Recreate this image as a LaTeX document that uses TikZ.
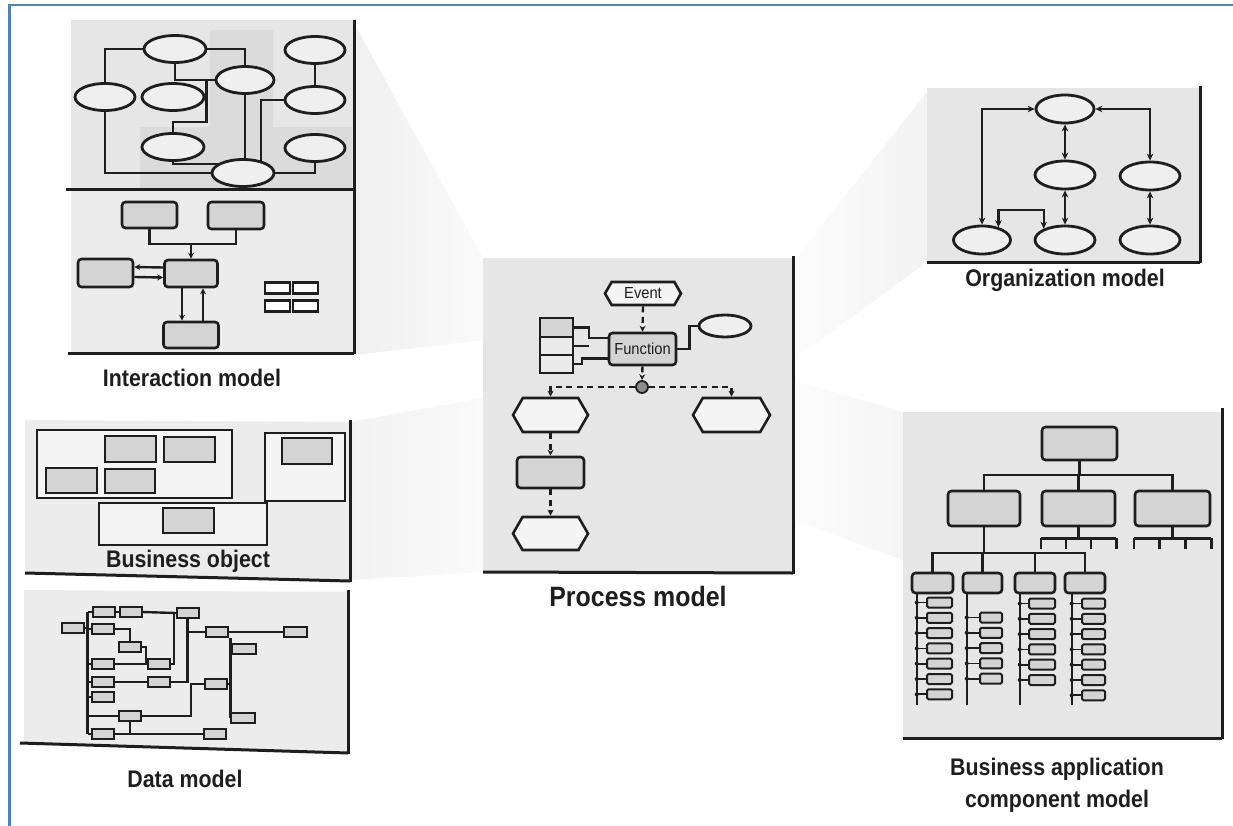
\documentclass[tikz,border=0pt]{standalone}
\usepackage{fontspec}
\setmainfont{Liberation Sans}
\newfontfamily\capfont{Liberation Sans Bold}[FakeStretch=0.89]
\newfontfamily\boxfont{Liberation Sans}[FakeStretch=0.92]
\usetikzlibrary{shapes.geometric,shapes.symbols,arrows.meta,calc}
\definecolor{frameblue}{HTML}{4F81BD}
\definecolor{panel}{HTML}{E6E6E6}
\definecolor{panellt}{HTML}{ECECEC}
\definecolor{patch}{HTML}{DBDBDB}
\definecolor{boxfill}{HTML}{D4D4D4}
\definecolor{ellfill}{HTML}{EFEFEF}
\definecolor{hexfill}{HTML}{F4F4F4}
\definecolor{ink}{HTML}{1E1E1E}
\begin{document}
\begin{tikzpicture}[x=1pt,y=-1pt,
  every node/.style={text=ink},
  rim/.style={draw=ink,line width=3pt},
  wire/.style={draw=ink,line width=2.4pt},
  arr/.style={wire,-{Stealth[length=6pt,width=6pt]}},
  rarr/.style={wire,{Stealth[length=6pt,width=6pt]}-},
  dbl/.style={wire,{Stealth[length=7pt,width=6.5pt]}-{Stealth[length=7pt,width=6.5pt]}},
  dsh/.style={draw=ink,line width=2.4pt,dash pattern=on 6pt off 4.5pt},
  dsharr/.style={dsh,-{Stealth[length=6pt,width=6pt]}},
  oval/.style={ellipse,draw=ink,line width=2.8pt,fill=ellfill,inner sep=0pt,minimum height=27pt,minimum width=#1},
  oval/.default=62pt,
  gbox/.style={draw=ink,line width=2.6pt,fill=boxfill,rounded corners=3.5pt,inner sep=0pt},
  sbox/.style={draw=ink,line width=2.4pt,fill=boxfill,inner sep=0pt},
  frame/.style={draw=ink,line width=2.4pt,inner sep=0pt},
  dbox/.style={draw=ink,line width=2pt,fill=boxfill,inner sep=0pt,minimum width=22pt,minimum height=10pt},
  ibox/.style={draw=ink,line width=2pt,fill=boxfill,rounded corners=1.5pt,inner sep=0pt,minimum height=10pt},
  wh/.style 2 args={minimum width=#1pt,minimum height=#2pt},
  hexa/.style={signal,signal to=west and east,signal pointer angle=120,draw=ink,line width=2.6pt,fill=hexfill,inner sep=0pt},
  caption/.style={font=\capfont\fontsize{24}{27}\selectfont,anchor=base},
  boxtext/.style={font=\boxfont\fontsize{16}{18}\selectfont},
]
\useasboundingbox (0,0) rectangle (1233,826);
\fill[white] (0,0) rectangle (1233,826);

% faint projection wedges
\shade[left color=black!6,right color=black!2] (355,25) -- (483,258) -- (483,340) -- (355,355) -- cycle;
\shade[left color=black!5,right color=black!2] (350,422) -- (483,398) -- (483,572) -- (350,580) -- cycle;
\shade[left color=black!1,right color=black!5] (793,262) -- (927,92) -- (927,262) -- (793,360) -- cycle;
\shade[left color=black!1,right color=black!4] (793,380) -- (903,412) -- (903,560) -- (793,520) -- cycle;

% ---------- Interaction model ----------
\fill[panel] (71,20) rectangle (354,190);
\fill[patch] (210,30) rectangle (273,188);
\fill[patch] (140,127) rectangle (352,188);
\fill[panellt] (71,190) rectangle (354,353);
\draw[rim] (354,20) -- (354,354);
\draw[rim] (66,190) -- (354,190);
\draw[rim] (68,353) -- (354,353);

\node[oval] (iE1) at (175,49) {};
\node[oval=60pt] (iE2) at (315,50) {};
\node[oval=58pt] (iE3) at (245,80) {};
\node[oval=60pt] (iE4) at (105,97) {};
\node[oval] (iE5) at (173,97) {};
\node[oval=60pt] (iE6) at (315,100) {};
\node[oval] (iE7) at (173,147) {};
\node[oval=60pt] (iE8) at (315,148) {};
\node[oval] (iE9) at (243,173) {};
\draw[wire] (iE1.west) -| (iE4.north);
\draw[wire] (iE1.east) -| (iE3.north);
\draw[wire] (iE1.south) |- (iE3.west);
\coordinate (ij) at ($(iE3.west)+(-8,0)$);
\draw[wire] (ij) -- ++(0,42) -| (iE7.north);
\draw[wire] (iE3.south) -- (iE3.south |- iE9.north);
\draw[wire] (iE6.west) -| (iE9.34);
\draw[wire] (iE2.south) -- (iE6.north);
\draw[wire] (iE8.south) |- (iE9.east);
\draw[wire] (iE7.south) |- (iE9.160);
\draw[wire] (iE4.south) |- (iE9.west);

\node[gbox,wh={55}{26}] (iA) at (149.5,215) {};
\node[gbox,wh={56}{27}] (iB) at (236,215.5) {};
\node[gbox,wh={53}{27}] (iC) at (191,273.5) {};
\node[gbox,wh={55}{28}] (iD) at (105.5,273) {};
\node[gbox,wh={55}{26}] (iE) at (191,335) {};
\draw[wire] (iA.south) -- ++(0,15) coordinate (ibus) -| (iB.south);
\draw[arr] (ibus -| iC.north) -- (iC.north);
\draw[rarr] ($(iD.east)+(0,-6)$) -- ($(iC.west)+(0,-6)$);
\draw[arr] ($(iD.east)+(0,4)$) -- ($(iC.west)+(0,4)$);
\draw[arr] ($(iC.south)+(-9,0)$) -- ($(iE.north)+(-9,0)$);
\draw[arr] ($(iE.north)+(12,0)$) -- ($(iC.south)+(12,0)$);
\node[sbox,fill=white,wh={25}{11}] (iq1) at (277.5,288) {};
\node[sbox,fill=white,wh={25}{11}] (iq2) at (305.5,288) {};
\node[sbox,fill=white,wh={25}{11}] (iq3) at (277.5,306) {};
\node[sbox,fill=white,wh={25}{11}] (iq4) at (305.5,306) {};
\node[caption] (capIM) at (192,386) {Interaction model};

% ---------- Business object ----------
\fill[panellt] (25,420) -- (350,422) -- (350,581) -- (25,573) -- cycle;
\draw[rim] (350,420) -- (350,582);
\draw[rim] (25,573) -- (350,581);
\node[frame,fill=panellt!60!white,wh={195}{68}] (bR1) at (134.5,464) {};
\node[frame,fill=panellt!60!white,wh={80}{68}] (bR2) at (305,467) {};
\node[frame,fill=panellt!60!white,wh={168}{42}] (bR3) at (183,524) {};
\node[sbox,wh={51}{26}] (bo1) at (130.5,449) {};
\node[sbox,wh={51}{25}] (bo2) at (189.5,449.5) {};
\node[sbox,wh={51}{25}] (bo3) at (71.5,480.5) {};
\node[sbox,wh={50}{24}] (bo4) at (130,481) {};
\node[sbox,wh={50}{26}] (bo5) at (307,451) {};
\node[sbox,wh={51}{25}] (bo6) at (188.5,520.5) {};
\node[caption] (capBO) at (188,567) {Business object};

% ---------- Data model ----------
\fill[panellt] (24,590) -- (348,592) -- (348,753) -- (24,743) -- cycle;
\draw[rim] (348,590) -- (348,754);
\draw[rim] (20,743) -- (348,753);
\node[dbox] (b1) at (72.5,628) {};
\node[dbox] (b2) at (103.5,612) {};
\node[dbox] (b3) at (130.5,612) {};
\node[dbox] (b4) at (187.5,613) {};
\node[dbox] (b5) at (103,629) {};
\node[dbox] (b6) at (130,647) {};
\node[dbox] (b7) at (217,632) {};
\node[dbox,minimum width=23pt] (b8) at (295.5,632) {};
\node[dbox,minimum width=24pt] (b9) at (244,648.5) {};
\node[dbox] (b10) at (102.5,664) {};
\node[dbox] (b11) at (159,664) {};
\node[dbox] (b12) at (102.5,682) {};
\node[dbox] (b13) at (159,682) {};
\node[dbox] (b14) at (216,684) {};
\node[dbox] (b15) at (102.5,697) {};
\node[dbox] (b16) at (130,716) {};
\node[dbox,minimum width=24pt] (b17) at (243,718) {};
\node[dbox] (b18) at (102.5,734) {};
\node[dbox] (b19) at (215,734) {};
\coordinate (tr1) at ($(b2.west)+(-4,0)$);
\draw[wire] (tr1) -- (tr1 |- b18.west);
\foreach \b in {b2,b5,b10,b12,b15,b18,b16}{\draw[wire] (\b.west) -- (\b.west -| tr1);}
\draw[wire] (b1.east) -- (b1.east -| tr1);
\draw[wire] (b2.east) -- (b3.west);
\draw[wire] (b3.east) -- (b4.west);
\draw[wire] (b5.east) -| (b6.north);
\draw[wire] (b6.east) -- ++(4,0) |- (b11.west);
\draw[wire] (b10.east) -- (b11.west);
\draw[wire] (b11.east) -- ++(3,0) |- (b4.west);
\draw[wire] (b4.south) |- (b13.east);
\draw[wire] (b4.south |- b7.west) -- (b7.west);
\draw[wire] (b12.east) -- (b13.west);
\draw[wire] (b7.east) -- (b8.west);
\coordinate (d7) at ($(b7.south east)+(1.5,0)$);
\draw[wire] (d7) -- (d7 |- b17.west) -- (b17.west);
\draw[wire] (d7 |- b9.west) -- (b9.west);
\draw[wire] (b14.east) -- (b14.east -| d7);
\draw[wire] (b14.west) -- ++(-13,0) |- (b16.east);
\draw[wire] (b18.east) -- (b19.west);
\draw[wire] (b16.south) -- (b16.south |- b18.east);
\node[caption] (capDM) at (185,787) {Data model};

% ---------- Process model ----------
\fill[panel] (483,258) rectangle (793,572);
\draw[rim] (793,256) -- (793,574);
\draw[rim] (483,572) -- (793,573);
\node[hexa,wh={76}{23},boxtext] (ev) at (643,293.5) {Event};
\node[gbox,wh={67}{32},boxtext] (fn) at (642.5,349) {Function};
\node[oval=52pt,minimum height=22pt] (pe) at (725,326) {};
\node[sbox,wh={33}{19}] (s1) at (556.5,327.5) {};
\node[sbox,fill=boxfill!50!white,wh={33}{18}] (s2) at (556.5,346) {};
\node[sbox,fill=boxfill!50!white,wh={33}{18}] (s3) at (556.5,364) {};
\node[circle,draw=ink,line width=1.8pt,fill=black!45,minimum size=12pt,inner sep=0pt] (xo) at (642,387) {};
\node[hexa,wh={75}{34}] (h1) at (550.5,415) {};
\node[hexa,wh={77}{34}] (h2) at (731.5,415) {};
\node[gbox,wh={67}{31}] (pg) at (550.5,472.5) {};
\node[hexa,wh={75}{33}] (h3) at (550.5,533.5) {};
\draw[dsharr] (ev.south) -- (fn.north);
\draw[dsharr] (fn.south) -- (xo.north);
\draw[dsharr] (xo.west) -| (h1.north);
\draw[dsharr] (xo.east) -| (h2.north);
\draw[dsharr] (h1.south) -- (pg.north);
\draw[dsharr] (pg.south) -- (h3.north);
\draw[wire] (fn.east) -- ++(12,0) |- (pe.west);
\draw[wire] (s1.east) -- ++(15,0) |- ($(fn.north west)+(0,6)$);
\draw[wire] (s2.east) -- ++(15,0);
\draw[wire] (s3.east) -- ++(8,0) |- ($(fn.south west)+(0,-8)$);
\node[caption,font=\capfont\fontsize{28}{30}\selectfont] (capPM) at (638,606) {Process model};

% ---------- Organization model ----------
\fill[panel] (927,88) rectangle (1200,262);
\draw[rim] (1200,86) -- (1200,263);
\draw[rim] (927,262) -- (1200,262);
\node[oval=58pt,minimum height=28pt] (o1) at (1065,109) {};
\node[oval=60pt,minimum height=28pt] (o2) at (1065,175) {};
\node[oval=60pt,minimum height=28pt] (o3) at (1150,176) {};
\node[oval=57pt,minimum height=28pt] (o4) at (982,240) {};
\node[oval=60pt,minimum height=28pt] (o5) at (1065,240) {};
\node[oval=60pt,minimum height=28pt] (o6) at (1150,240) {};
\coordinate (oy) at (0,210);
\draw[dbl] (o1.west) -| (o4.north);
\draw[dbl] (o1.east) -| (o3.north);
\draw[dbl] (o1.south) -- (o2.north);
\draw[dbl] (o2.south) -- (o5.north);
\draw[dbl] (o3.south) -- (o6.north);
\draw[dbl] (o4.38) -- (o4.38 |- oy) -| (o5.152);
\node[caption] (capOM) at (1065,286) {Organization model};

% ---------- Business application component model ----------
\fill[panel] (903,412) rectangle (1222,738);
\draw[rim] (1222,408) -- (1222,739);
\draw[rim] (903,738) -- (1222,738);
\node[gbox,wh={75}{33}] (tT) at (1079.5,443.5) {};
\node[gbox,wh={72}{35}] (l1) at (984,508.5) {};
\node[gbox,wh={73}{35}] (l2) at (1078.5,508.5) {};
\node[gbox,wh={75}{35}] (l3) at (1172.5,508.5) {};
\node[gbox,wh={41}{20}] (m1) at (932.5,583) {};
\node[gbox,wh={39}{20}] (m2) at (982.5,583) {};
\node[gbox,wh={40}{20}] (m3) at (1035,583) {};
\node[gbox,wh={40}{20}] (m4) at (1085,583) {};
\coordinate (h2y) at (0,475);
\coordinate (h3y) at (0,553);
\draw[wire] (tT.south) -- (tT.south |- h2y);
\draw[wire] (l1.north) -- (l1.north |- h2y) -- (l3.north |- h2y) -- (l3.north);
\draw[wire] (l2.north) -- (l2.north |- h2y);
\draw[wire] (l1.south) -- (l1.south |- h3y);
\draw[wire] (m1.north) -- (m1.north |- h3y) -- (m4.north |- h3y) -- (m4.north);
\draw[wire] (m2.north) -- (m2.north |- h3y);
\draw[wire] (m3.north) -- (m3.north |- h3y);
\foreach \l in {l2,l3}{
  \draw[wire] (\l.south) -- ++(0,11);
  \draw[wire] ($(\l.south west)+(0,11)$) -- ($(\l.south east)+(0,11)$);
  \foreach \f in {0,0.333,0.667,1}{
    \draw[wire] ($(\l.south west)!\f!(\l.south east)+(0,11)$) -- ++(0,11);
  }
}
\foreach \m/\dx/\ix/\iw/\st/\n in {m1/6/939.5/25/602.5/7, m2/5/991/22/617.5/5, m3/6/1042/26/603.5/6, m4/8/1093.5/23/603.5/7}{
  \coordinate (\m sp) at ($(\m.south west)+(\dx,0)$);
  \draw[wire] (\m sp) -- ++(0,111);
  \foreach \k in {1,...,\n}{
    \node[ibox,minimum width=\iw pt] (\m-\k) at (\ix,{\st+(\k-1)*15.3}) {};
    \draw[wire,line width=1.8pt] (\m-\k.west) -- (\m-\k.west -| \m sp);
    \fill[ink] (\m-\k.west -| \m sp) circle (2pt);
  }
}
\node[caption] (capBA1) at (1057,775) {Business application};
\node[caption] (capBA2) at (1057,807) {component model};

% outer frame edges
\draw[frameblue,line width=2.6pt] (7.5,5) -- (1233,5);
\draw[frameblue,line width=3pt] (9,4) -- (9,826);
\end{tikzpicture}
\end{document}
